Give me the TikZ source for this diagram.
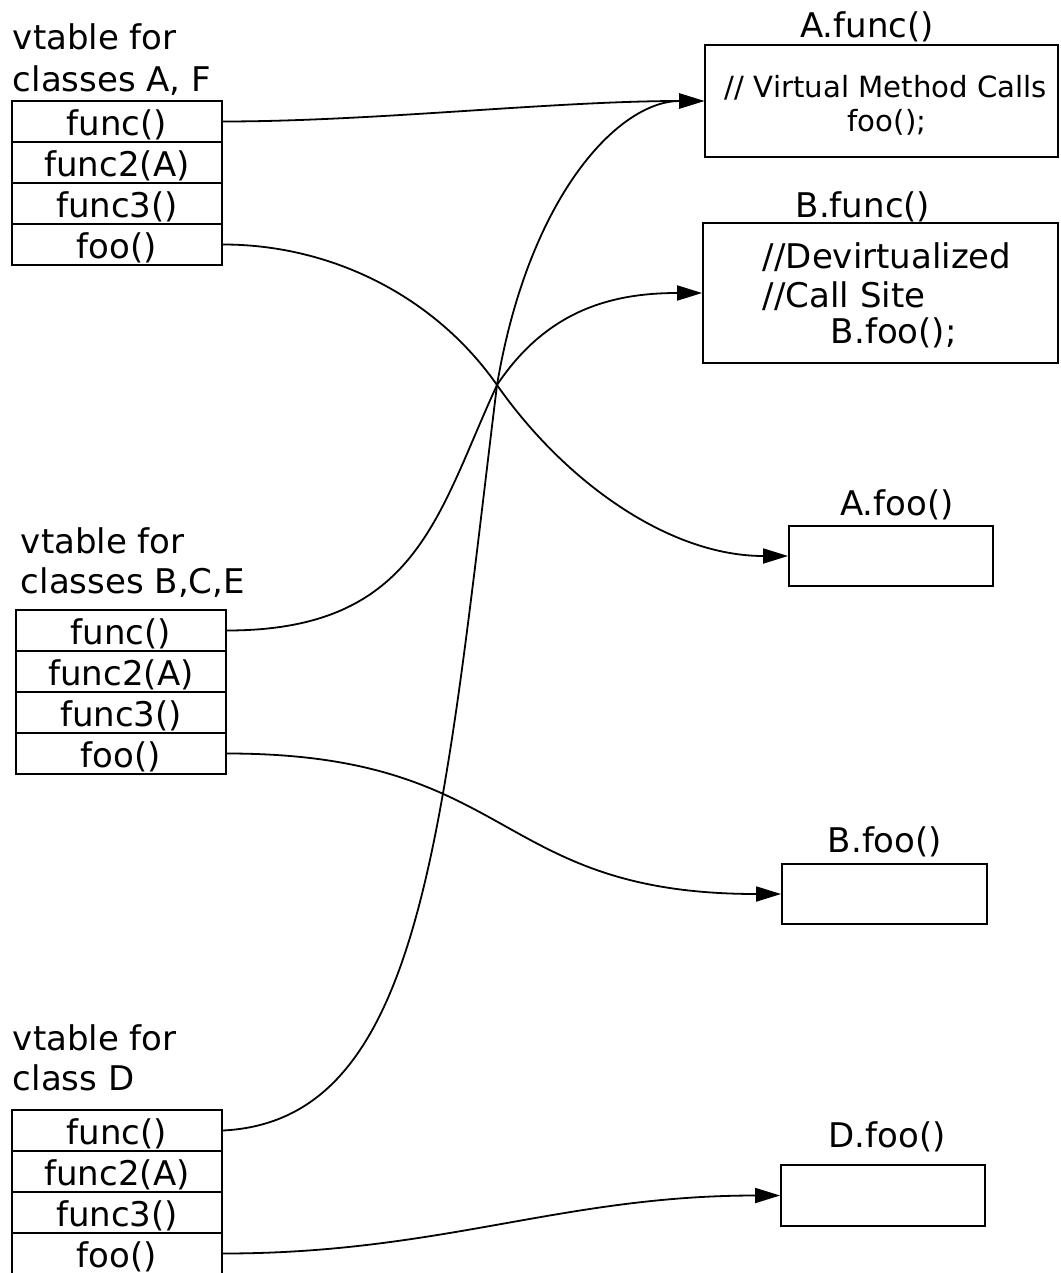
\documentclass[tikz,border=0pt]{standalone}
\usepackage{fontspec}
\setmainfont{DejaVu Sans}
\usetikzlibrary{arrows.meta}
\begin{document}
\begin{tikzpicture}[x=0.5pt,y=-0.5pt,
  line width=0.9pt,
  big/.style={font=\fontsize{17}{20}\selectfont, inner sep=0pt},
  small/.style={font=\fontsize{14.6}{17}\selectfont, inner sep=0pt},
  title/.style={big, anchor=base west},
  heading/.style={big, anchor=base},
  slot/.style={big, draw, minimum width=105pt, minimum height=20.5pt,
    text height=14pt, text depth=0pt},
  body/.style={draw, inner sep=0pt},
  link/.style={-{Triangle[length=12.5pt,width=7.5pt]}}]
\useasboundingbox (0,0) rectangle (1060,1273);

% vtable for classes A, F
\node[title] (t1a) at (12,50) {vtable for};
\node[title] (t1b) at (12,92) {classes A, F};
\node[slot] (v1a) at (117,121.5) {func()};
\node[slot] (v1b) at (117,162.5) {func2(A)};
\node[slot] (v1c) at (117,203.5) {func3()};
\node[slot] (v1d) at (117,244.5) {foo()};

% vtable for classes B, C, E
\node[title] (t2a) at (20,553) {vtable for};
\node[title] (t2b) at (20,593) {classes B,C,E};
\node[slot] (v2a) at (121,630.5) {func()};
\node[slot] (v2b) at (121,671.5) {func2(A)};
\node[slot] (v2c) at (121,712.5) {func3()};
\node[slot] (v2d) at (121,753.5) {foo()};

% vtable for class D
\node[title] (t3a) at (12,1050) {vtable for};
\node[title] (t3b) at (12,1090) {class D};
\node[slot] (v3a) at (117,1130.5) {func()};
\node[slot] (v3b) at (117,1171.5) {func2(A)};
\node[slot] (v3c) at (117,1212.5) {func3()};
\node[slot] (v3d) at (117,1253.5) {foo()};

% method bodies
\node[body, minimum width=176.5pt, minimum height=56pt] (afunc) at (881.5,101) {};
\node[heading] (hafunc) at (867,38) {A.func()};
\node[small, anchor=base] (ca1) at (886,98) {// Virtual Method Calls};
\node[small, anchor=base] (ca2) at (887,132) {foo();};

\node[body, minimum width=177.5pt, minimum height=70pt] (bfunc) at (880.5,293) {};
\node[heading] (hbfunc) at (863,218) {B.func()};
\node[title] (cb1) at (762,268) {//Devirtualized};
\node[title] (cb2) at (762,307) {//Call Site};
\node[title] (cb3) at (830,343) {B.foo();};

\node[body, minimum width=102pt, minimum height=30pt] (afoo) at (891,556) {};
\node[heading] (hafoo) at (897,515) {A.foo()};

\node[body, minimum width=102.5pt, minimum height=30pt] (bfoo) at (884.5,894) {};
\node[heading] (hbfoo) at (885,852) {B.foo()};

\node[body, minimum width=102pt, minimum height=30.5pt] (dfoo) at (883,1195.5) {};
\node[heading] (hdfoo) at (887,1147) {D.foo()};

% crossing point of the three long connectors
\coordinate (X) at (497,385);

% connectors
\draw[link] (v1a.east) to[out=0,in=180,looseness=0.8] (afunc.west);
\draw[link] (v1d.east) to[out=0,in=125,looseness=0.9] (X)
  to[out=-55,in=180,looseness=0.9] (afoo.west);
\draw[link] (v2a.east) .. controls +(190,0) and +(-60,130) .. (X)
  .. controls +(50,-75) and +(-90,0) .. (bfunc.west);
\draw[link] (v2d.east) to[out=0,in=180,looseness=1.3] (bfoo.west);
\draw[link] (v3a.east) .. controls +(200,-10) and +(-55,450) .. (X)
  .. controls +(32,-190) and +(-85,0) .. (afunc.west);
\draw[link] (v3d.east) to[out=0,in=180] (dfoo.west);
\end{tikzpicture}
\end{document}
